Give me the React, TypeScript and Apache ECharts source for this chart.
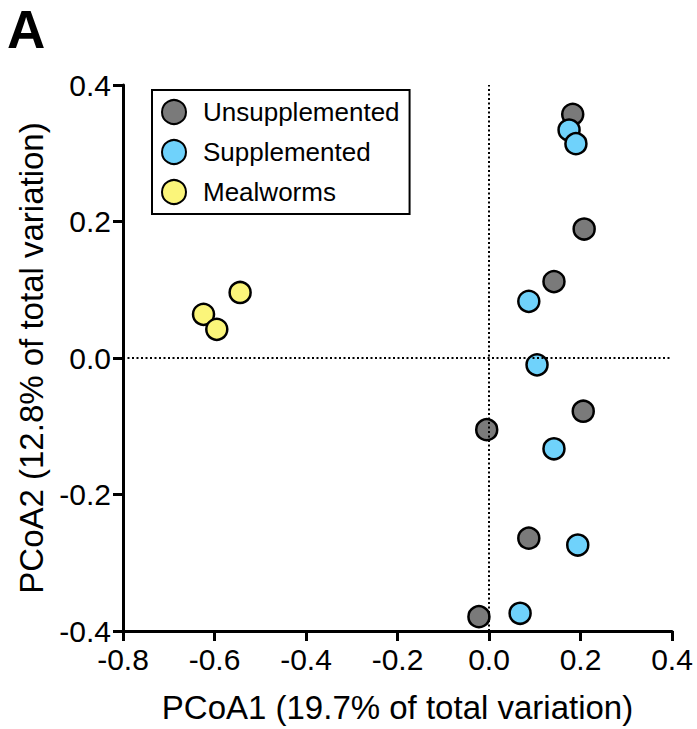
import React, { useEffect, useRef } from "react";
import * as echarts from "echarts";

const seriesNames = ["Unsupplemented", "Supplemented", "Mealworms"];
const seriesColors = ["#7a7a7a", "#6fd2fb", "#fbf57a"];

const unsupplemented: [number, number][] = [
  [0.183, 0.357],
  [0.208, 0.189],
  [0.142, 0.112],
  [0.206, -0.078],
  [-0.005, -0.105],
  [0.087, -0.264],
  [-0.022, -0.379],
];
const supplemented: [number, number][] = [
  [0.175, 0.334],
  [0.19, 0.314],
  [0.087, 0.083],
  [0.105, -0.01],
  [0.142, -0.133],
  [0.194, -0.274],
  [0.068, -0.374],
];
const mealworms: [number, number][] = [
  [-0.544, 0.096],
  [-0.624, 0.064],
  [-0.595, 0.042],
];

const xTitle = "PCoA1 (19.7% of total variation)";
const yTitle = "PCoA2 (12.8% of total variation)";
const panelLabel = "A";

const FONT = "'Liberation Sans', Arial, Helvetica, sans-serif";

export default function App() {
  const ref = useRef<HTMLDivElement>(null);
  useEffect(() => {
    if (!ref.current) return;
    const chart = echarts.init(ref.current, null, { renderer: "svg" });
    const datasets = [unsupplemented, supplemented, mealworms];
    const series: any[] = datasets.map((d, i) => ({
      type: "scatter",
      name: seriesNames[i],
      data: d,
      symbol: "circle",
      symbolSize: 21,
      itemStyle: {
        color: seriesColors[i],
        borderColor: "#000",
        borderWidth: 2.5,
        opacity: 1,
      },
      z: 3,
    }));
    series.unshift({
      type: "scatter",
      name: "zero",
      data: [],
      silent: true,
      markLine: {
        silent: true,
        symbol: "none",
        label: { show: false },
        lineStyle: { color: "#000", type: [2, 2.5], width: 2 },
        data: [{ xAxis: 0 }, { yAxis: 0 }],
      },
      z: 1,
    });
    chart.setOption({
      animation: false,
      textStyle: { fontFamily: FONT },
      title: {
        text: panelLabel,
        left: 2,
        top: -2,
        textStyle: { fontSize: 53, fontWeight: "bold", color: "#000", fontFamily: FONT },
      },
      legend: {
        data: seriesNames,
        orient: "vertical",
        left: 152,
        top: 90,
        borderColor: "#000",
        borderWidth: 2,
        padding: [9, 10, 9, 9],
        itemWidth: 24,
        itemHeight: 24,
        itemGap: 14,
        icon: "circle",
        textStyle: { fontSize: 26, color: "#000", fontFamily: FONT, padding: [0, 0, 0, 12] },
      },
      grid: { left: 123, top: 85, right: 25, bottom: 96 },
      xAxis: {
        type: "value",
        min: -0.8,
        max: 0.4,
        interval: 0.2,
        name: xTitle,
        nameLocation: "middle",
        nameGap: 60,
        nameTextStyle: { fontSize: 33, color: "#000", fontFamily: FONT },
        axisLine: { onZero: false, lineStyle: { color: "#000", width: 3 } },
        axisTick: { length: 10, lineStyle: { color: "#000", width: 3 } },
        axisLabel: {
          fontSize: 30,
          color: "#000",
          margin: 13,
          fontFamily: FONT,
          formatter: (v: number) => v.toFixed(1),
        },
        splitLine: { show: false },
      },
      yAxis: {
        type: "value",
        min: -0.4,
        max: 0.4,
        interval: 0.2,
        name: yTitle,
        nameLocation: "middle",
        nameGap: 70,
        nameRotate: 90,
        nameTextStyle: { fontSize: 33, color: "#000", fontFamily: FONT },
        axisLine: { onZero: false, lineStyle: { color: "#000", width: 3 } },
        axisTick: { length: 10, lineStyle: { color: "#000", width: 3 } },
        axisLabel: {
          fontSize: 30,
          color: "#000",
          margin: 12,
          fontFamily: FONT,
          formatter: (v: number) => v.toFixed(1),
        },
        splitLine: { show: false },
      },
      series,
    });
    return () => chart.dispose();
  }, []);
  return <div ref={ref} style={{ width: 697, height: 729, position: "absolute", left: 0, top: 0, background: "#fff" }} />;
}
